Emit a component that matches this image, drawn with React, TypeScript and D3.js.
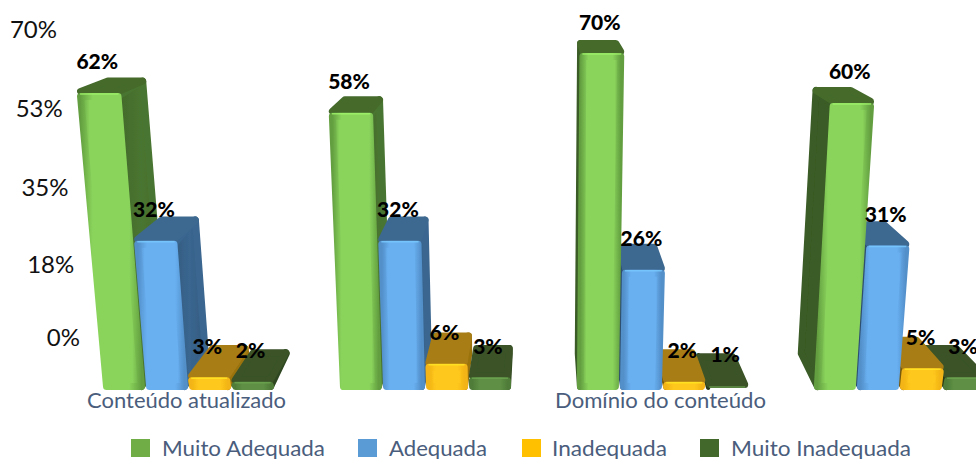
import React from "react";
import * as d3 from "d3";

const categories = ["Conteúdo atualizado", "", "Domínio do conteúdo", ""];
const groupIds = ["a", "b", "c", "d"];
const seriesNames = ["Muito Adequada", "Adequada", "Inadequada", "Muito Inadequada"];
const muitoAdequada = [62, 58, 70, 60];
const adequada = [32, 32, 26, 31];
const inadequada = [3, 6, 2, 5];
const muitoInadequada = [2, 3, 1, 3];
const seriesValues = [muitoAdequada, adequada, inadequada, muitoInadequada];
const tickValues = [0, 17.5, 35, 52.5, 70];

const palette = [
  { swatch: "#70ad47", edge: "#639f40", mid: "#8ad45c", top: "#446b2b", side: "#4a7530" },
  { swatch: "#5b9bd5", edge: "#528fc9", mid: "#69b0f1", top: "#3d6890", side: "#3a668f" },
  { swatch: "#ffc000", edge: "#f2b414", mid: "#ffc81e", top: "#a87d14", side: "#9a7310" },
  { swatch: "#43682b", edge: "#4f7c38", mid: "#5e8f45", top: "#3a5327", side: "#2f4720" },
];

const W = 976, H = 459, BASE = 390;
const VP = { x: 540, y: -168 };
const DEPTH = 0.059;
const LEAN = 0.0002;
const R = 3.5;
const FONT = "Lato, Carlito, sans-serif";

const x0 = d3.scaleBand<string>().domain(groupIds).range([103, 985]).paddingInner(0.278).paddingOuter(0);
const x1 = d3.scaleBand<number>().domain([0, 1, 2, 3]).range([0, x0.bandwidth()]).paddingInner(0.025).paddingOuter(0);
const y = d3.scalePow().exponent(1.04).domain([0, 70]).range([BASE, 53]);
const tickY = d3.scalePow().exponent(1.04).domain([0, 70]).range([336, 28]);
const tickX = d3.scaleLinear().domain([0, 70]).range([80, 57]);
const tickFormat = (v: number) => d3.format(".0f")(v) + "%";
const line = d3.line<[number, number]>().curve(d3.curveLinearClosed);

type P = [number, number];
const front = (bx: number, v: number): P => {
  const py = y(v);
  return [bx + LEAN * (bx - VP.x) * (BASE - py), py];
};
const back = (p: P): P => [p[0] + DEPTH * (VP.x - p[0]), p[1] + DEPTH * (VP.y - p[1])];

type Bar = { g: number; s: number; v: number; left: number; right: number };
const bars: Bar[] = [];
groupIds.forEach((id, g) => {
  seriesValues.forEach((vals, s) => {
    const left = x0(id)! + x1(s)!;
    bars.push({ g, s, v: vals[g], left, right: left + x1.bandwidth() });
  });
});
const ordered = [...bars].sort(
  (a, b) => Math.abs((b.left + b.right) / 2 - VP.x) - Math.abs((a.left + a.right) / 2 - VP.x)
);

function BarShape({ b }: { b: Bar }) {
  const fl = front(b.left, b.v), fr = front(b.right, b.v);
  const bl0: P = [b.left, BASE], br0: P = [b.right, BASE];
  const tl = back(fl), tr = back(fr);
  const c = palette[b.s];
  const rightVisible = tr[0] > fr[0] + 0.5;
  const leftVisible = tl[0] < fl[0] - 0.5;
  const inset = (p: P, dx: number, dy: number): P => [p[0] + dx, p[1] + dy];
  const frontH = BASE - fl[1];
  const ry = Math.min(R, frontH / 2);
  const common = { strokeWidth: ry * 2, strokeLinejoin: "round" as const };
  const topStroke = { strokeWidth: R * 2, strokeLinejoin: "round" as const };
  const topPts: P[] = [inset(fl, R, -R + 2), inset(fr, -R, -R + 2), inset(tr, -R, R), inset(tl, R, R)];
  const frontPts: P[] = [inset(fl, R, ry), inset(fr, -R, ry), inset(br0, -R, -ry), inset(bl0, R, -ry)];
  const dark = d3.color(c.side)!.darker(0.7).formatHex();
  const sideR = (pTop: P, pBase: P, dx: number): P[] => [
    inset(pTop, dx, ry), inset(back(pTop), dx, ry), inset(back(pBase), dx, -ry), inset(pBase, dx, -ry),
  ];
  return (
    <g filter="url(#soft)">
      {rightVisible && (
        <path d={line(sideR(fr, br0, -ry))!} fill={`url(#side${b.s})`} stroke={c.side} {...common} />
      )}
      {leftVisible && (
        <path d={line(sideR(fl, bl0, ry))!} fill={dark} stroke={dark} {...common} />
      )}
      <path d={line(topPts)!} fill={c.top} stroke={c.top} {...topStroke} />
      <path d={line(frontPts)!} fill={`url(#front${b.s})`} stroke={`url(#stroke${b.s})`} {...common} />
      <line x1={fl[0] + 3} y1={fl[1] + 1} x2={fr[0] - 3} y2={fr[1] + 1}
        stroke={d3.color(c.mid)!.brighter(0.4).formatHex()} strokeWidth={1.5} opacity={0.8} />
    </g>
  );
}

export default function App() {
  const legendX = [131, 358, 522, 700];
  const legendTextX = [162, 389, 552, 731];
  const legendTextW = [163, 98, 115, 180];
  return (
    <svg width={W} height={H} viewBox={`0 0 ${W} ${H}`}
      style={{ position: "fixed", left: 0, top: 0, display: "block", background: "#fff" }}>
      <defs>
        <filter id="soft" x="-10%" y="-10%" width="120%" height="120%">
          <feGaussianBlur stdDeviation="0.45" />
        </filter>
        {palette.map((c, i) => (
          <React.Fragment key={i}>
            <linearGradient id={`front${i}`} x1="0" x2="1" y1="0" y2="0">
              <stop offset="0" stopColor={c.edge} />
              <stop offset="0.15" stopColor={c.mid} />
              <stop offset="0.85" stopColor={c.mid} />
              <stop offset="1" stopColor={c.edge} />
            </linearGradient>
            <linearGradient id={`stroke${i}`} x1="0" x2="1" y1="0" y2="0">
              <stop offset="0" stopColor={c.edge} />
              <stop offset="0.2" stopColor={c.mid} />
              <stop offset="0.8" stopColor={c.mid} />
              <stop offset="1" stopColor={c.edge} />
            </linearGradient>
            <linearGradient id={`side${i}`} x1="0" x2="1" y1="0" y2="0">
              <stop offset="0" stopColor={d3.color(c.side)!.darker(0.3).formatHex()} />
              <stop offset="0.5" stopColor={c.side} />
              <stop offset="1" stopColor={d3.color(c.side)!.darker(0.3).formatHex()} />
            </linearGradient>
          </React.Fragment>
        ))}
      </defs>

      {tickValues.map((t) => (
        <text key={t} x={tickX(t)} y={tickY(t)} textAnchor="end" dominantBaseline="central"
          fontFamily={FONT} fontSize={24} fill="#111">{tickFormat(t)}</text>
      ))}

      {ordered.map((b) => <BarShape key={`${b.g}-${b.s}`} b={b} />)}

      {bars.map((b) => {
        const p = front((b.left + b.right) / 2, b.v);
        return (
          <text key={`l${b.g}-${b.s}`} x={p[0] - 2} y={p[1] - 32} textAnchor="middle" dominantBaseline="central"
            fontFamily={FONT} fontWeight={900} fontSize={21} fill="#000">{b.v}%</text>
        );
      })}

      {categories.map((c, i) => c && (
        <text key={c} x={x0(groupIds[i])! + x0.bandwidth() / 2 - 2} y={399} textAnchor="middle" dominantBaseline="central"
          fontFamily={FONT} fontSize={21} fill="#4a5d7c"
          textLength={i === 0 ? 199 : 211} lengthAdjust="spacingAndGlyphs">{c}</text>
      ))}

      {seriesNames.map((n, i) => (
        <g key={n}>
          <rect x={legendX[i]} y={439} width={19} height={18} fill={palette[i].swatch} />
          <text x={legendTextX[i]} y={447} dominantBaseline="central" fontFamily={FONT} fontSize={21}
            fill="#4a5d7c" textLength={legendTextW[i]} lengthAdjust="spacingAndGlyphs">{n}</text>
        </g>
      ))}
    </svg>
  );
}
